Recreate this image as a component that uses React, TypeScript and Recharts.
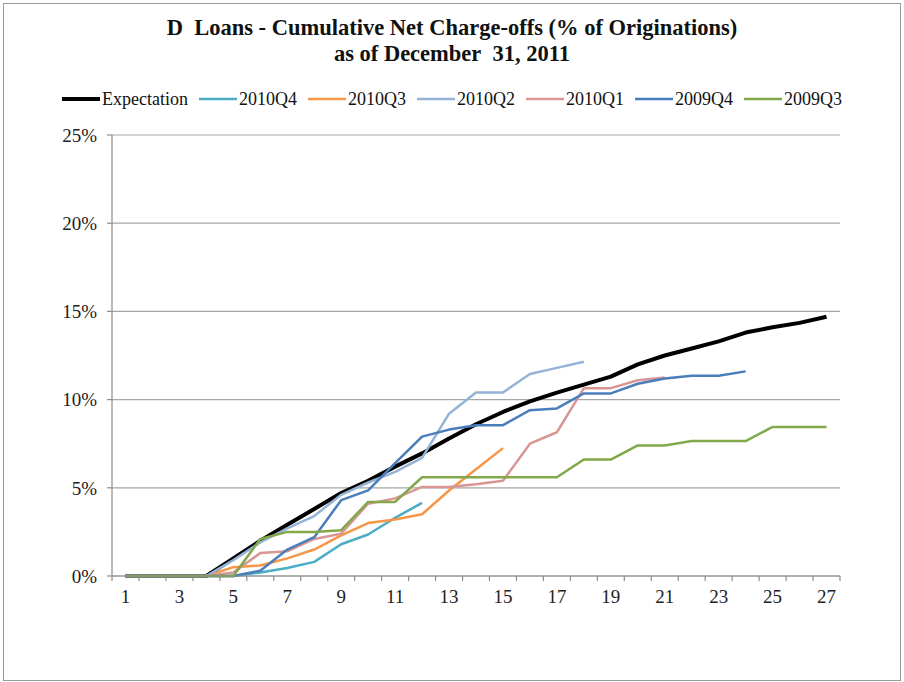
import { CartesianGrid, Line, LineChart, XAxis, YAxis } from "recharts";

const MONTHS: number[] = Array.from({ length: 27 }, (_, i) => i + 1);

const EXPECTATION = [0, 0, 0, 0, 1.0, 2.0, 2.9, 3.8, 4.7, 5.4, 6.2, 6.95, 7.8, 8.6, 9.3, 9.9, 10.4, 10.85, 11.3, 12.0, 12.5, 12.9, 13.3, 13.8, 14.1, 14.35, 14.7];
const Q4_2010 = [0, 0, 0, 0, 0, 0.2, 0.45, 0.8, 1.8, 2.35, 3.3, 4.15];
const Q3_2010 = [0, 0, 0, 0, 0.5, 0.6, 1.0, 1.5, 2.3, 3.0, 3.2, 3.5, 4.85, 6.05, 7.25];
const Q2_2010 = [0, 0, 0, 0, 0.9, 1.9, 2.7, 3.4, 4.6, 5.3, 5.9, 6.7, 9.2, 10.4, 10.4, 11.45, 11.8, 12.15];
const Q1_2010 = [0, 0, 0, 0, 0.2, 1.3, 1.4, 2.1, 2.4, 4.1, 4.4, 5.05, 5.05, 5.2, 5.4, 7.5, 8.15, 10.65, 10.65, 11.1, 11.25];
const Q4_2009 = [0, 0, 0, 0, 0, 0.3, 1.5, 2.2, 4.3, 4.85, 6.4, 7.9, 8.3, 8.55, 8.55, 9.4, 9.5, 10.35, 10.35, 10.9, 11.2, 11.35, 11.35, 11.6];
const Q3_2009 = [0, 0, 0, 0, 0, 2.1, 2.5, 2.5, 2.6, 4.2, 4.2, 5.6, 5.6, 5.6, 5.6, 5.6, 5.6, 6.6, 6.6, 7.4, 7.4, 7.65, 7.65, 7.65, 8.45, 8.45, 8.45];

const Y_TICKS = [0, 5, 10, 15, 20, 25];
// odd months get a label, the half steps between months get a tick mark
const X_TICKS = [0.5, ...MONTHS.flatMap((m) => (m % 2 === 1 ? [m, m + 0.5] : [m + 0.5]))];

const SERIES = [
	{ key: "Expectation", values: EXPECTATION, color: "#000000", width: 4 },
	{ key: "2010Q4", values: Q4_2010, color: "#4BACC6", width: 2.5 },
	{ key: "2010Q3", values: Q3_2010, color: "#F79646", width: 2.5 },
	{ key: "2010Q2", values: Q2_2010, color: "#95B3D7", width: 2.5 },
	{ key: "2010Q1", values: Q1_2010, color: "#D99694", width: 2.5 },
	{ key: "2009Q4", values: Q4_2009, color: "#4A7EBB", width: 2.5 },
	{ key: "2009Q3", values: Q3_2009, color: "#82A84A", width: 2.5 },
];

const rows = MONTHS.map((m, i) => {
	const row: Record<string, number | undefined> = { month: m };
	SERIES.forEach((s) => {
		row[s.key] = s.values[i];
	});
	return row;
});

const FONT = "'Liberation Serif', 'Times New Roman', serif";
const GRID = "#A6A6A6";
const AXIS = "#8c8c8c";
const TICK_SIZE = 5;
const TICK_MARGIN = 9;

function MonthTick({ x, y, payload }: { x?: number; y?: number; payload?: { value: number } }) {
	if (x == null || y == null || !payload) return null;
	if (!Number.isInteger(payload.value)) {
		const top = y - TICK_SIZE - TICK_MARGIN;
		return <line x1={x} x2={x} y1={top} y2={top + TICK_SIZE} stroke={AXIS} strokeWidth={1.2} />;
	}
	return (
		<text x={x} y={y} dy="0.71em" textAnchor="middle" fontSize={19} fill="#222" fontFamily={FONT}>
			{payload.value}
		</text>
	);
}

export default function App() {
	return (
		<div style={{ position: "absolute", left: 0, top: 0, width: 904, height: 682, background: "#fff", fontFamily: FONT }}>
			<div style={{ position: "absolute", left: 3, top: 3, width: 896, height: 676, border: "1px solid #9a9a9a" }} />
			<div
				style={{
					position: "absolute",
					top: 15,
					left: 0,
					width: 904,
					textAlign: "center",
					fontWeight: "bold",
					fontSize: 22.5,
					lineHeight: "26px",
					color: "#111",
				}}
			>
				<div>D&nbsp; Loans - Cumulative Net Charge-offs (% of Originations)</div>
				<div>as of December&nbsp; 31, 2011</div>
			</div>
			<div
				style={{
					position: "absolute",
					top: 88,
					left: 0,
					width: 904,
					display: "flex",
					justifyContent: "center",
					fontSize: 18,
					lineHeight: "22px",
					color: "#111",
				}}
			>
				{SERIES.map((s, i) => (
					<div
						key={s.key}
						style={{ display: "flex", alignItems: "center", marginRight: i === SERIES.length - 1 ? 0 : 11 }}
					>
						<svg width={38} height={10}>
							<line x1={0} y1={5} x2={38} y2={5} stroke={s.color} strokeWidth={s.width} />
						</svg>
						<span style={{ marginLeft: 2 }}>{s.key}</span>
					</div>
				))}
			</div>
			<div style={{ position: "absolute", left: 0, top: 0 }}>
				<LineChart width={904} height={682} data={rows} margin={{ top: 135, right: 64, bottom: 76, left: 52 }}>
					<CartesianGrid horizontal vertical={false} stroke={GRID} strokeWidth={1.2} />
					<XAxis
						dataKey="month"
						type="number"
						domain={[0.5, 27.5]}
						ticks={X_TICKS}
						interval={0}
						tick={<MonthTick />}
						tickLine={false}
						tickSize={TICK_SIZE}
						tickMargin={TICK_MARGIN}
						height={30}
						axisLine={{ stroke: AXIS, strokeWidth: 1.2 }}
					/>
					<YAxis
						domain={[0, 25]}
						ticks={Y_TICKS}
						interval={0}
						width={60}
						tickFormatter={(v: number) => `${v}%`}
						tickSize={5}
						tickMargin={10}
						tickLine={{ stroke: AXIS, strokeWidth: 1.2 }}
						axisLine={{ stroke: AXIS, strokeWidth: 1.2 }}
						tick={{ fontSize: 19, fill: "#222", fontFamily: FONT }}
					/>
					{SERIES.map((s) => (
						<Line
							key={s.key}
							dataKey={s.key}
							stroke={s.color}
							strokeWidth={s.width}
							dot={false}
							activeDot={false}
							isAnimationActive={false}
							strokeLinejoin="round"
						/>
					))}
				</LineChart>
			</div>
		</div>
	);
}
